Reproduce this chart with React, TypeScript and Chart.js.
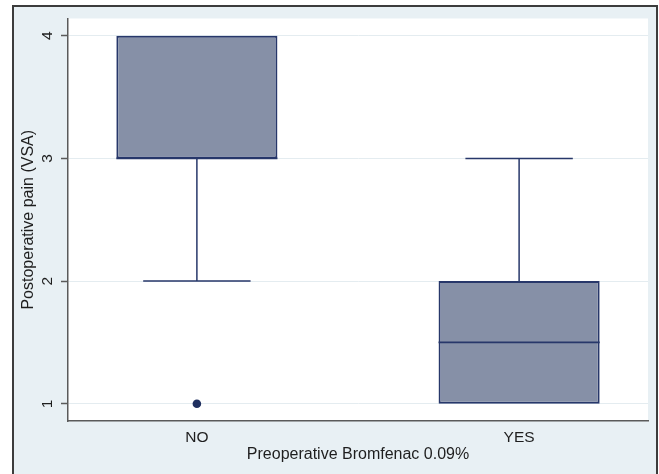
import React, { useEffect, useRef } from "react";
import { Chart, registerables } from "chart.js";

Chart.register(...registerables);

const categories = ["NO", "YES"];
const q1 = [3, 1];
const medians = [3, 1.5];
const q3 = [4, 2];
const whiskerLow = [2, 1];
const whiskerHigh = [4, 3];
const outliers: number[][] = [[1], []];
const yTicks = [1, 2, 3, 4];

const BOX_HALF = 0.25;
const CAP_HALF = 1 / 6;
const NAVY = "#27376a";
const FONT = "'Liberation Sans', Arial, sans-serif";

const plotBg = {
  id: "plotBg",
  beforeDraw(chart: any) {
    const { ctx, chartArea } = chart;
    ctx.save();
    ctx.fillStyle = "#ffffff";
    ctx.fillRect(chartArea.left, chartArea.top, chartArea.right - chartArea.left, chartArea.bottom - chartArea.top);
    ctx.restore();
  },
};

export default function App() {
  const ref = useRef<HTMLCanvasElement | null>(null);

  useEffect(() => {
    if (!ref.current) return;
    const medianPts: any[] = [];
    const whiskerPts: any[] = [];
    const capPts: any[] = [];
    categories.forEach((_, i) => {
      const x = i + 1;
      medianPts.push({ x: x - BOX_HALF, y: medians[i] }, { x: x + BOX_HALF, y: medians[i] }, { x, y: null });
      if (whiskerLow[i] < q1[i]) {
        whiskerPts.push({ x, y: q1[i] }, { x, y: whiskerLow[i] }, { x: x + 0.01, y: null });
        capPts.push({ x: x - CAP_HALF, y: whiskerLow[i] }, { x: x + CAP_HALF, y: whiskerLow[i] }, { x, y: null });
      }
      if (whiskerHigh[i] > q3[i]) {
        whiskerPts.push({ x, y: q3[i] }, { x, y: whiskerHigh[i] }, { x: x + 0.02, y: null });
        capPts.push({ x: x - CAP_HALF, y: whiskerHigh[i] }, { x: x + CAP_HALF, y: whiskerHigh[i] }, { x, y: null });
      }
    });
    const outlierPts: any[] = [];
    outliers.forEach((arr, i) => arr.forEach((v) => outlierPts.push({ x: i + 1, y: v })));

    const lineStyle = {
      type: "line" as const,
      borderColor: NAVY,
      pointRadius: 0,
      spanGaps: false,
      fill: false,
      parsing: false as const,
    };

    const chart = new Chart(ref.current, {
      type: "bar",
      data: {
        datasets: [
          {
            type: "line",
            ...lineStyle,
            data: whiskerPts,
            borderWidth: 1.5,
            order: 2,
          } as any,
          {
            type: "line",
            ...lineStyle,
            data: capPts,
            borderWidth: 1.5,
            order: 2,
          } as any,
          {
            type: "bar",
            data: categories.map((_, i) => ({ x: i + 1, y: [q1[i], q3[i]] })),
            backgroundColor: "#8690a7",
            borderColor: NAVY,
            borderWidth: 2,
            borderSkipped: false,
            barPercentage: 0.5,
            categoryPercentage: 1,
            order: 1,
          } as any,
          {
            type: "line",
            ...lineStyle,
            data: medianPts,
            borderWidth: 1.8,
            order: 0,
          } as any,
          {
            type: "scatter",
            data: outlierPts,
            pointRadius: 4.3,
            pointBackgroundColor: "#1f2f5f",
            pointBorderColor: "#1f2f5f",
            pointBorderWidth: 0,
            order: 0,
          } as any,
        ],
      },
      options: {
        animation: false,
        responsive: false,
        layout: { padding: { top: 17, right: 11, left: 0, bottom: 0 } },
        plugins: { legend: { display: false }, tooltip: { enabled: false } },
        scales: {
          x: {
            type: "linear",
            offset: false,
            min: 0.6,
            max: 2.4,
            afterBuildTicks: (s: any) => {
              s.ticks = categories.map((_, i) => ({ value: i + 1 }));
            },
            afterFit: (s: any) => {
              s.height = 53;
            },
            grid: { display: false, drawTicks: false, offset: false },
            border: { display: true, color: "#5a5a5a", width: 1.5 },
            ticks: {
              padding: 7,
              color: "#1e1e1e",
              font: { family: FONT, size: 15.5 },
              callback: (v: any) => categories[Math.round(Number(v)) - 1] ?? "",
            },
            title: {
              display: true,
              text: "Preoperative Bromfenac 0.09%",
              color: "#1e1e1e",
              font: { family: FONT, size: 16 },
              padding: { top: 0, bottom: 9.4 },
            },
          },
          y: {
            type: "linear",
            min: 0.86,
            max: 4.14,
            afterBuildTicks: (s: any) => {
              s.ticks = yTicks.map((v) => ({ value: v }));
            },
            afterFit: (s: any) => {
              s.width = 68;
            },
            grid: {
              display: true,
              color: "#e4ecf0",
              lineWidth: 1,
              drawTicks: true,
              tickLength: 7,
              tickColor: "#5a5a5a",
              tickWidth: 1.5,
            },
            border: { display: true, color: "#5a5a5a", width: 1.5 },
            ticks: {
              padding: 9.2,
              minRotation: 90,
              maxRotation: 90,
              crossAlign: "center",
              color: "#1e1e1e",
              font: { family: FONT, size: 15.5 },
              callback: (v: any) => String(v),
            },
            title: {
              display: true,
              text: "Postoperative pain (VSA)",
              color: "#1e1e1e",
              font: { family: FONT, size: 16 },
              padding: { top: 19.4, bottom: 0 },
            },
          },
        },
      } as any,
      plugins: [plotBg],
    });
    return () => chart.destroy();
  }, []);

  return (
    <div style={{ position: "absolute", left: 0, top: 0, width: 659, height: 474, background: "#ffffff", overflow: "hidden" }}>
      <div
        style={{
          position: "absolute",
          left: 12,
          top: 5,
          width: 646,
          height: 600,
          boxSizing: "border-box",
          border: "2px solid #3c3c3c",
          background: "#e8f0f4",
        }}
      />
      <canvas ref={ref} width={659} height={474} style={{ position: "absolute", left: 0, top: 0, width: 659, height: 474 }} />
    </div>
  );
}
